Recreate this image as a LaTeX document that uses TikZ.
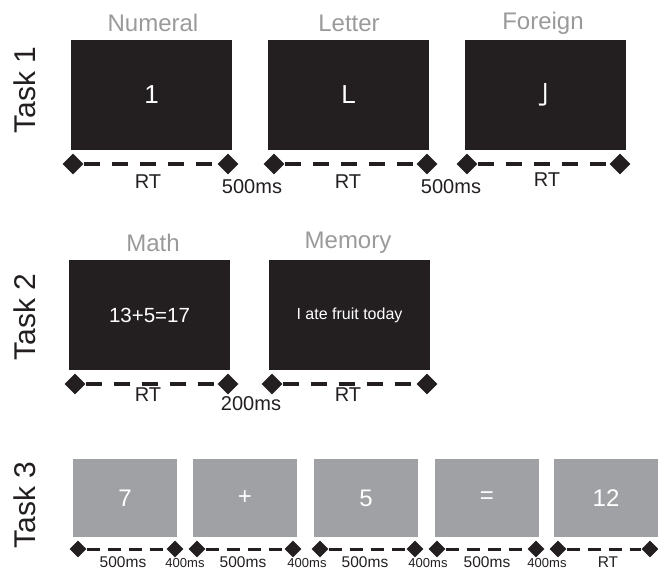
\documentclass[tikz,border=0pt]{standalone}
\usepackage{fontspec}
\setmainfont{Liberation Sans}
\newfontfamily\cjkfont{Noto Sans CJK JP}
\usetikzlibrary{shapes.geometric}
\definecolor{boxdark}{HTML}{231F20}
\definecolor{boxgrey}{HTML}{A0A1A5}
\definecolor{titlegrey}{HTML}{9A9A9A}
\tikzset{
  darkbox/.style={fill=boxdark, draw=none, minimum width=161pt, minimum height=110pt, inner sep=0pt, text=white},
  greybox/.style={fill=boxgrey, draw=none, minimum width=104pt, minimum height=78pt, inner sep=0pt, text=white, font=\fontsize{24}{24}\selectfont},
  title/.style={text=titlegrey, font=\fontsize{24}{24}\selectfont, inner sep=0pt},
  tasklabel/.style={rotate=90, font=\fontsize{30}{30}\selectfont, inner sep=0pt, text=boxdark},
  dia/.style={diamond, aspect=1, fill=boxdark, draw=none, minimum size=21pt, inner sep=0pt},
  smalldia/.style={dia, minimum size=17pt},
  tline/.style={draw=boxdark, line width=3.5pt, dash pattern=on 16pt off 12pt},
  sline/.style={draw=boxdark, line width=3pt, dash pattern=on 13pt off 8pt},
  lab/.style={font=\fontsize{20}{20}\selectfont, inner sep=0pt, text=boxdark},
  slab/.style={font=\fontsize{15.5}{15.5}\selectfont, inner sep=0pt, text=boxdark},
  tlab/.style={font=\fontsize{13}{13}\selectfont, inner sep=0pt, text=boxdark},
}
\begin{document}
\begin{tikzpicture}[x=1pt, y=-1pt]
\useasboundingbox (0,0) rectangle (658,571);

% ---------- Task 1 ----------
\node[tasklabel] (t1) at (25,90) {Task 1};
\node[title] (n1) at (153,23) {Numeral};
\node[title] (n2) at (349,23) {Letter};
\node[title] (n3) at (543,23) {Foreign};
\node[darkbox, font=\fontsize{26}{26}\selectfont] (b11) at (151.5,95) {1};
\node[darkbox, font=\fontsize{26}{26}\selectfont] (b12) at (348.5,95) {L};
\node[darkbox, font=\cjkfont\fontsize{26}{26}\selectfont] (b13) at (545.5,95) {亅};

\node[dia] (d11) at (73,164) {};
\node[dia] (d12) at (228,164) {};
\node[dia] (d13) at (274,164) {};
\node[dia] (d14) at (427,164) {};
\node[dia] (d15) at (467,164) {};
\node[dia] (d16) at (620,164) {};
\draw[tline] (d11) -- (d12);
\draw[tline] (d13) -- (d14);
\draw[tline] (d15) -- (d16);
\node[lab] (r11) at (148,182) {RT};
\node[lab] (w11) at (252,187) {500ms};
\node[lab] (r12) at (348,182) {RT};
\node[lab] (w12) at (451,187) {500ms};
\node[lab] (r13) at (547,180) {RT};

% ---------- Task 2 ----------
\node[tasklabel] (t2) at (25,317) {Task 2};
\node[title] (m1) at (153,243) {Math};
\node[title] (m2) at (348,243) {Memory};
\node[darkbox, font=\fontsize{20.5}{20.5}\selectfont] (b21) at (149.5,315) {13+5=17};
\node[darkbox, font=\fontsize{16}{16}\selectfont] (b22) at (349.5,315) {I ate fruit today};

\node[dia] (d21) at (75,384) {};
\node[dia] (d22) at (228,384) {};
\node[dia] (d23) at (272,384) {};
\node[dia] (d24) at (427,384) {};
\draw[tline] (d21) -- (d22);
\draw[tline] (d23) -- (d24);
\node[lab] (r21) at (148,395) {RT};
\node[lab] (w21) at (251,404) {200ms};
\node[lab] (r22) at (348,395) {RT};

% ---------- Task 3 ----------
\node[tasklabel] (t3) at (25,505) {Task 3};
\node[greybox] (b31) at (125,498) {7};
\node[greybox] (b32) at (245,498) {+};
\node[greybox] (b33) at (366,498) {5};
\node[greybox] (b34) at (487,498) {=};
\node[greybox] (b35) at (606,498) {12};

\node[smalldia] (d31) at (78,549) {};
\node[smalldia] (d32) at (175,549) {};
\node[smalldia] (d33) at (197,549) {};
\node[smalldia] (d34) at (293,549) {};
\node[smalldia] (d35) at (320,549) {};
\node[smalldia] (d36) at (415,549) {};
\node[smalldia] (d37) at (437,549) {};
\node[smalldia] (d38) at (536,549) {};
\node[smalldia] (d39) at (558,549) {};
\node[smalldia] (d310) at (650,549) {};
\draw[sline] (d31) -- (d32);
\draw[sline] (d33) -- (d34);
\draw[sline] (d35) -- (d36);
\draw[sline] (d37) -- (d38);
\draw[sline] (d39) -- (d310);
\node[slab] (w31) at (123,562) {500ms};
\node[tlab] (p31) at (185,563.5) {400ms};
\node[slab] (w32) at (243,562) {500ms};
\node[tlab] (p32) at (307,563.5) {400ms};
\node[slab] (w33) at (365,562) {500ms};
\node[tlab] (p33) at (428,563.5) {400ms};
\node[slab] (w34) at (487,562) {500ms};
\node[tlab] (p34) at (547,563.5) {400ms};
\node[slab] (r31) at (608,562) {RT};
\end{tikzpicture}
\end{document}
